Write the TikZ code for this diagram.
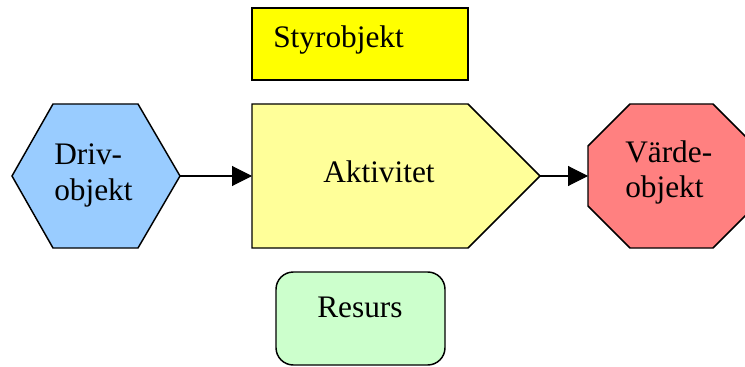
\documentclass[tikz,border=0pt]{standalone}
\usepackage{fontspec}
\setmainfont{Liberation Serif}
\usetikzlibrary{arrows.meta}
\tikzset{
  outline/.style={draw=black, line width=1.1pt, line join=miter},
  label/.style={anchor=base west, inner sep=0pt, font=\fontsize{23.5}{26.3}\selectfont},
  flow/.style={draw=black, line width=0.8pt, -{Triangle[length=15pt,width=15pt]}},
}
\definecolor{driv}{HTML}{99CCFF}
\definecolor{akt}{HTML}{FFFF99}
\definecolor{styr}{HTML}{FFFF00}
\definecolor{varde}{HTML}{FF8080}
\definecolor{res}{HTML}{CCFFCC}
\begin{document}
\begin{tikzpicture}[x=0.75pt, y=-0.75pt]
  \useasboundingbox (0,0) rectangle (745,367);
  \begin{scope}
    \clip (0,0) rectangle (745,367);
    % control object
    \path[outline, fill=styr, line width=1.6pt] (252,8) rectangle (468,80);
    % driver object (hexagon)
    \path[outline, fill=driv] (12,176) -- (53,104) -- (138,104) -- (180,176)
      -- (138,248) -- (53,248) -- cycle;
    % activity (arrow pentagon)
    \path[outline, fill=akt] (252,104) -- (468,104) -- (540,176) -- (468,248)
      -- (252,248) -- cycle;
    % value object (octagon)
    \path[outline, fill=varde] (588,146) -- (630,104) -- (713,104) -- (755,146)
      -- (755,206) -- (713,248) -- (630,248) -- (588,206) -- cycle;
    % resource (rounded box)
    \path[outline, fill=res, rounded corners=13pt] (276,272) rectangle (445,365);
  \end{scope}

  % connector ends on the shape borders
  \coordinate (drivE) at (180,176);
  \coordinate (aktW) at (252,176);
  \coordinate (aktE) at (540,176);
  \coordinate (vardeW) at (588,176);

  % labels
  \node[label] (styrText) at (273,48) {Styrobjekt};
  \node[label] (drivText) at (54,165)
    {\begin{tabular}[t]{@{}l@{}}Driv-\\objekt\end{tabular}};
  \node[label] (aktText) at (323,182) {Aktivitet};
  \node[label] (vardeText) at (625,162)
    {\begin{tabular}[t]{@{}l@{}}Värde-\\objekt\end{tabular}};
  \node[label] (resText) at (317,317) {Resurs};

  % flow
  \draw[flow] (drivE) -- (aktW);
  \draw[flow] (aktE) -- (vardeW);
\end{tikzpicture}
\end{document}
